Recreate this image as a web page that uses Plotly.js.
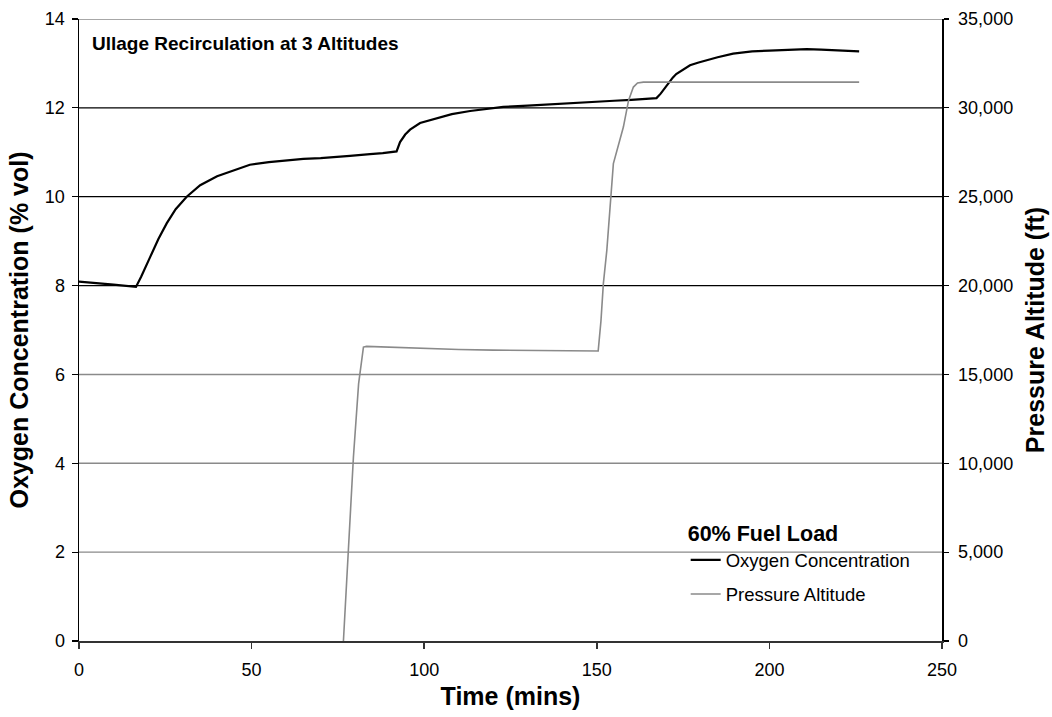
<!DOCTYPE html>
<html>
<head>
<meta charset="utf-8">
<script src="https://cdn.plot.ly/plotly-3.0.1.min.js"></script>
<style>html,body{margin:0;padding:0;background:#fff;}#chart{width:1052px;height:717px;}</style>
</head>
<body>
<div id="chart"></div>
<script>
// Oxygen concentration (% vol) vs time (mins)
const o2Time = [0, 5, 10, 16.5, 18, 20.6, 23, 25.4, 28, 31.2, 35.1, 40, 45.7, 49.5, 55, 60, 65, 70, 75, 78.5, 84.3, 88, 92, 93, 94.5, 95.9, 98.8, 103.6, 108, 113.3, 118, 122.9, 130, 136, 142.2, 146, 150.9, 155, 160, 165, 167.3, 168.5, 170.2, 172, 173, 175, 177, 179.5, 181.8, 185, 189.5, 195, 200, 205, 210.8, 215, 220, 226];
const o2Value = [8.09, 8.06, 8.02, 7.97, 8.2, 8.64, 9.05, 9.4, 9.72, 10.0, 10.26, 10.46, 10.62, 10.72, 10.78, 10.82, 10.85, 10.87, 10.89, 10.92, 10.96, 10.98, 11.02, 11.23, 11.4, 11.51, 11.66, 11.77, 11.86, 11.93, 11.98, 12.02, 12.05, 12.08, 12.11, 12.13, 12.15, 12.16, 12.18, 12.2, 12.22, 12.32, 12.5, 12.68, 12.76, 12.87, 12.96, 13.02, 13.07, 13.14, 13.22, 13.27, 13.29, 13.31, 13.32, 13.31, 13.29, 13.27];

// Pressure altitude (ft) vs time (mins)
const altTime = [76.6, 78.5, 79.5, 81, 82.4, 83.3, 86, 90, 100, 110, 120, 130, 140, 150.4, 151.2, 151.9, 152.9, 154.8, 157.7, 159.2, 160.6, 161.8, 163.5, 170, 180, 190, 200, 210, 220, 226];
const altValue = [0, 6620, 10350, 14480, 16540, 16580, 16560, 16520, 16450, 16400, 16370, 16350, 16330, 16320, 18000, 20110, 21980, 26860, 28920, 30420, 31170, 31400, 31450, 31450, 31450, 31450, 31450, 31450, 31450, 31450];

const leftTicks = [0, 2, 4, 6, 8, 10, 12, 14];
const rightTicks = [0, 5000, 10000, 15000, 20000, 25000, 30000, 35000];
const xTicks = [0, 50, 100, 150, 200, 250];
const blackGridLevels = [8, 10, 12];
const grayGridLevels = [2, 4, 6, 14];

const FONT = 'Liberation Sans, Arial, sans-serif';

const traces = [
  {
    x: o2Time, y: o2Value, name: 'Oxygen Concentration', type: 'scatter', mode: 'lines',
    line: {color: '#000000', width: 2.2}, yaxis: 'y', legendgroup: 'a'
  },
  {
    x: altTime, y: altValue, name: 'Pressure Altitude', type: 'scatter', mode: 'lines',
    line: {color: '#8a8a8a', width: 1.6}, yaxis: 'y2', legendgroup: 'b'
  }
];

const shapes = blackGridLevels.map(v => ({
  type: 'line', xref: 'paper', x0: 0, x1: 1, yref: 'y', y0: v, y1: v,
  line: {color: '#000000', width: 1.2}, layer: 'below'
})).concat(grayGridLevels.map(v => ({
  type: 'line', xref: 'paper', x0: 0, x1: 1, yref: 'y', y0: v, y1: v,
  line: {color: '#8a8a8a', width: 1.4}, layer: 'below'
})));

const layout = {
  width: 1052, height: 717,
  margin: {l: 79, r: 110, t: 19, b: 76},
  paper_bgcolor: '#ffffff', plot_bgcolor: '#ffffff',
  font: {family: FONT, size: 18, color: '#000'},
  showlegend: true,
  legend: {
    x: 0.703, y: 0.205, xanchor: 'left', yanchor: 'top',
    bgcolor: 'rgba(0,0,0,0)', borderwidth: 0,
    font: {family: FONT, size: 18.5, color: '#000'},
    title: {text: '<b>60% Fuel Load</b>', font: {family: FONT, size: 21.5, color: '#000'}},
    traceorder: 'grouped', tracegroupgap: 7
  },
  xaxis: {
    range: [0, 250], tickvals: xTicks, ticktext: xTicks.map(String),
    showgrid: false, zeroline: false,
    showline: true, linecolor: '#333', linewidth: 1.5,
    ticks: 'outside', ticklen: 6, tickcolor: '#333', tickwidth: 1.5,
    ticklabelstandoff: 6,
    tickfont: {family: FONT, size: 18},
    title: {text: '<b>Time (mins)</b>', font: {family: FONT, size: 25}, standoff: 8}
  },
  yaxis: {
    range: [0, 14], tickvals: leftTicks, ticktext: leftTicks.map(String),
    showgrid: false, zeroline: false,
    showline: true, linecolor: '#000', linewidth: 1.5,
    ticks: 'outside', ticklen: 6, tickcolor: '#000', tickwidth: 1.2,
    ticklabelstandoff: 3,
    tickfont: {family: FONT, size: 18},
    title: {text: '<b>Oxygen Concentration (% vol)</b>', font: {family: FONT, size: 25}, standoff: 9}
  },
  yaxis2: {
    range: [0, 35000], tickvals: rightTicks, tickformat: ',d',
    overlaying: 'y', side: 'right', anchor: 'x',
    showgrid: false, zeroline: false,
    showline: true, linecolor: '#000', linewidth: 1.5,
    ticks: 'outside', ticklen: 5, tickcolor: '#000', tickwidth: 1.2,
    ticklabelstandoff: 6,
    tickfont: {family: FONT, size: 18},
    title: {text: '<b>Pressure Altitude (ft)</b>', font: {family: FONT, size: 25}, standoff: 14}
  },
  shapes: shapes,
  annotations: [
    {
      text: '<b>Ullage Recirculation at 3 Altitudes</b>', xref: 'paper', yref: 'paper',
      x: 0.013, y: 0.96, xanchor: 'left', yanchor: 'middle', showarrow: false,
      font: {family: FONT, size: 19, color: '#000'}
    }
  ]
};

Plotly.newPlot('chart', traces, layout, {displayModeBar: false, staticPlot: true});
</script>
</body>
</html>
